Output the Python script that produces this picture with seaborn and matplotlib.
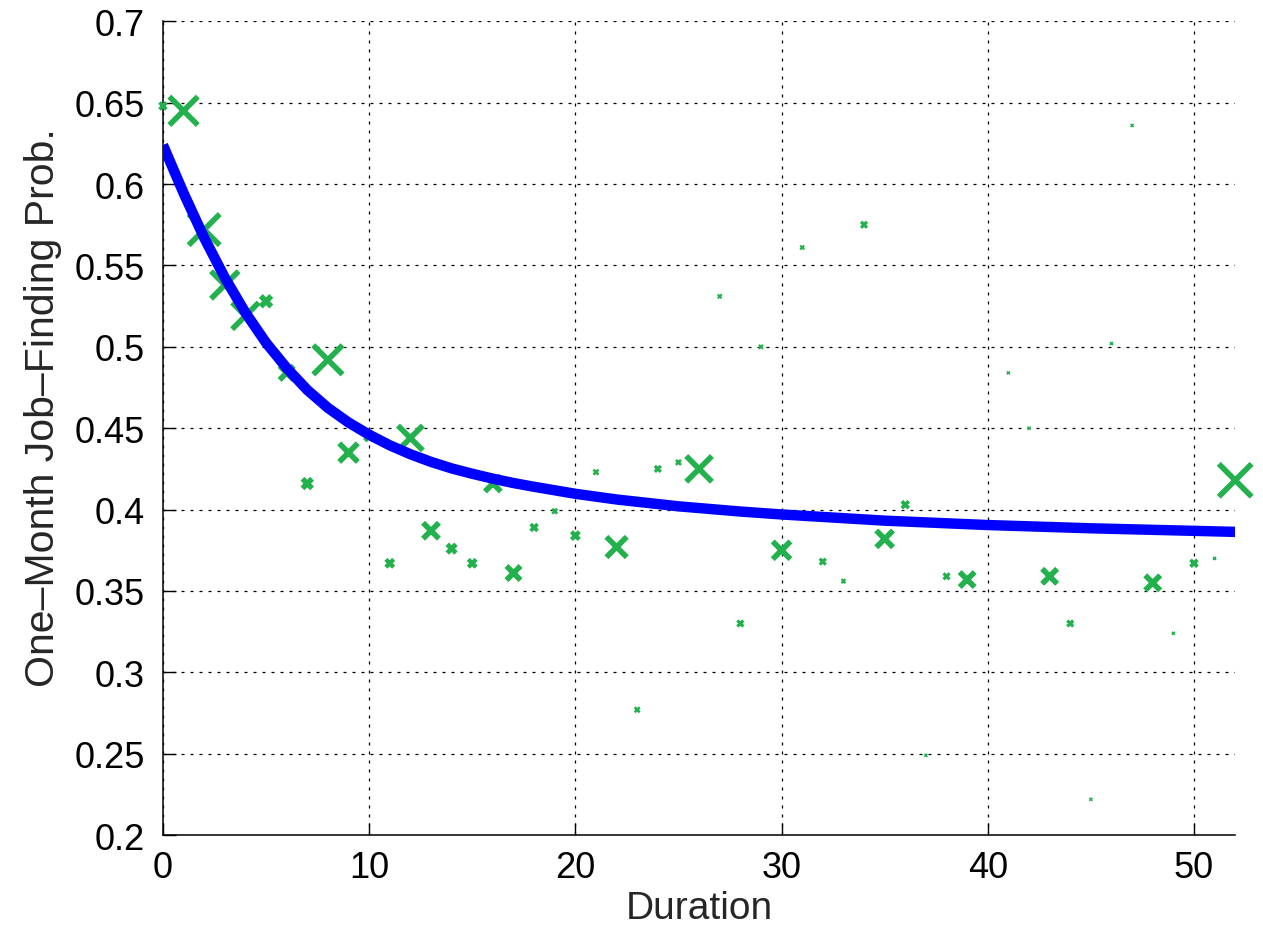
import numpy as np
import pandas as pd
import matplotlib
matplotlib.use("Agg")
import matplotlib.pyplot as plt
from matplotlib.ticker import FuncFormatter
import seaborn as sns

# ---- data ----
duration = [0, 1, 2, 3, 4, 5, 6, 7, 8, 9, 10, 11, 12, 13, 14, 15, 16, 17, 18, 19,
            20, 21, 22, 23, 24, 25, 26, 27, 28, 29, 30, 31, 32, 33, 34, 35, 36, 37,
            38, 39, 41, 42, 43, 44, 45, 46, 47, 48, 49, 50, 51, 52]
job_prob = [0.648, 0.645, 0.572, 0.538, 0.519, 0.528, 0.484, 0.416, 0.492, 0.435,
            0.445, 0.367, 0.444, 0.387, 0.376, 0.367, 0.416, 0.361, 0.389, 0.399,
            0.384, 0.423, 0.377, 0.277, 0.425, 0.429, 0.425, 0.531, 0.330, 0.500,
            0.375, 0.561, 0.368, 0.356, 0.575, 0.382, 0.403, 0.249, 0.359, 0.357,
            0.484, 0.450, 0.359, 0.330, 0.222, 0.502, 0.636, 0.355, 0.324, 0.367,
            0.370, 0.418]
# relative number of observations behind each point (marker size)
n_obs = [64, 1024, 1225, 961, 900, 144, 256, 121, 1089, 441,
         100, 81, 784, 324, 100, 81, 324, 256, 64, 36,
         81, 36, 529, 36, 49, 36, 841, 25, 49, 25,
         400, 25, 49, 25, 49, 361, 64, 16, 49, 289,
         16, 16, 289, 49, 16, 16, 16, 289, 16, 64,
         16, 1369]

# fitted curve
fit_x = [0, 1, 2, 3, 4, 5, 6, 7, 8, 9, 10, 11, 12, 13, 14, 15, 16, 17, 18,
         20, 22, 25, 28, 30, 35, 40, 45, 52]
fit_y = [0.624, 0.5945, 0.567, 0.5425, 0.521, 0.5025, 0.487, 0.4735, 0.4625,
         0.4535, 0.446, 0.4395, 0.434, 0.4293, 0.4253, 0.422, 0.419, 0.4163,
         0.414, 0.4097, 0.4062, 0.402, 0.3988, 0.397, 0.3932, 0.3905, 0.3885,
         0.3863]

x_ticks = [0, 10, 20, 30, 40, 50]
y_ticks = [0.2, 0.25, 0.3, 0.35, 0.4, 0.45, 0.5, 0.55, 0.6, 0.65, 0.7]

pts = pd.DataFrame({"Duration": duration, "Prob": job_prob, "n": n_obs})
fit = pd.DataFrame({"Duration": fit_x, "Prob": fit_y})

sns.set_theme(style="white")
plt.rcParams["font.family"] = ["Liberation Sans", "DejaVu Sans"]

fig = plt.figure(figsize=(12.63, 9.29), dpi=100)
ax = fig.add_axes([0.129, 0.1, 0.849, 0.876])

green = "#22B14C"
sns.scatterplot(data=pts, x="Duration", y="Prob", size="n", sizes=(5, 560),
                size_norm=(min(n_obs), max(n_obs)), marker="x", color=green,
                legend=False, ax=ax, zorder=3, clip_on=False)
coll = ax.collections[0]
s = np.asarray(coll.get_sizes())
coll.set_linewidths(np.clip(0.6 * np.sqrt(s) - 0.3, 0.9, 4.0))

sns.lineplot(data=fit, x="Duration", y="Prob", color="#0000FF", linewidth=7.5,
             ax=ax, zorder=4, solid_capstyle="butt", solid_joinstyle="round")

ax.set_xlim(0, 52)
ax.set_ylim(0.2, 0.7)
ax.set_xticks(x_ticks)
ax.set_yticks(y_ticks)
ax.yaxis.set_major_formatter(FuncFormatter(lambda v, p: "%g" % round(v, 2)))
ax.grid(True, color="black", linestyle=(0, (2.4, 4.8)), linewidth=0.9)
ax.set_axisbelow(True)
for side in ("top", "right"):
    ax.spines[side].set_visible(False)
for side in ("left", "bottom"):
    ax.spines[side].set_color("black")
    ax.spines[side].set_linewidth(1.1)
ax.tick_params(axis="both", direction="in", length=9, width=1.0, colors="black",
               labelsize=26, left=True, bottom=True)
ax.tick_params(axis="y", pad=13)
ax.tick_params(axis="x", pad=11)
ax.set_xlabel("Duration", fontsize=28, labelpad=3)
ax.set_ylabel("One\u2013Month Job\u2013Finding Prob.", fontsize=29.5)
ax.yaxis.set_label_coords(-0.094, 0.526)

fig.savefig("out.png", dpi=100)
